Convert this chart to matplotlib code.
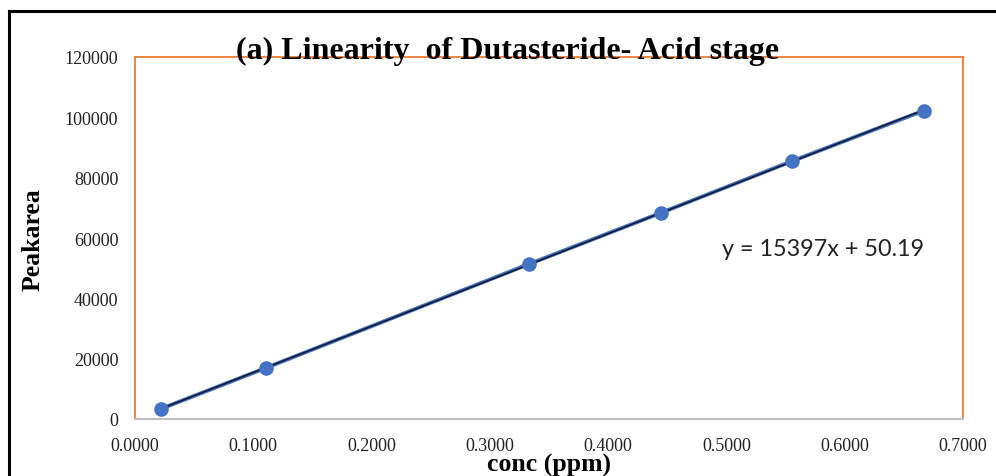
import numpy as np
import matplotlib
matplotlib.use("Agg")
import matplotlib.pyplot as plt
from matplotlib.lines import Line2D

# concentration (ppm) and peak area
conc = [0.0222, 0.1111, 0.3333, 0.4444, 0.5556, 0.6667]
peak_area = [3400, 17000, 51400, 68300, 85500, 102200]

x_ticks = [0.0, 0.1, 0.2, 0.3, 0.4, 0.5, 0.6, 0.7]
y_ticks = [0, 20000, 40000, 60000, 80000, 100000, 120000]

title = "(a) Linearity  of Dutasteride- Acid stage"
equation = "y = 15397x + 50.19"

W, H = 996, 477
fig = plt.figure(figsize=(W / 100, H / 100), dpi=100)
ax = fig.add_axes([135 / W, 1 - 420 / H, (963 - 135) / W, (420 - 58) / H])

# trendline fitted to the points
slope, icpt = np.polyfit(conc, peak_area, 1)
fx = np.array([conc[0], conc[-1]])
ax.plot(conc, peak_area, color="#4472C4", lw=2.8, zorder=2)
ax.plot(fx, slope * fx + icpt, color="#111a33", lw=1.2, zorder=3)
ax.plot(conc, peak_area, "o", color="#4472C4", ms=10.5, mec="none", zorder=4)

ax.set_xlim(0, 0.7)
ax.set_ylim(0, 120000)
ax.set_xticks(x_ticks)
ax.set_xticklabels([f"{v:.4f}" for v in x_ticks])
ax.set_yticks(y_ticks)
ax.set_yticklabels([str(v) for v in y_ticks])
ax.tick_params(length=0, labelsize=13, colors="#222222")
ax.tick_params(axis="x", pad=13)
ax.tick_params(axis="y", pad=12)
for lab in ax.get_xticklabels() + ax.get_yticklabels():
    lab.set_family("Liberation Serif")

for side in ["left", "top", "right"]:
    ax.spines[side].set_color("#ED7D31")
    ax.spines[side].set_linewidth(1.3)
ax.spines["bottom"].set_color("#BFBFBF")
ax.spines["bottom"].set_linewidth(1.5)

ax.text(0.709, 0.47, equation, transform=ax.transAxes, fontsize=16.8,
        family="Lato", va="center", ha="left", color="#222222")

fig.text(508 / W, 1 - 59 / H, title, ha="center", va="baseline",
         fontsize=23, fontweight="bold", family="Liberation Serif")
fig.text(549 / W, 1 - 472 / H, "conc (ppm)", ha="center", va="baseline",
         fontsize=18.5, fontweight="bold", family="Liberation Serif")
fig.text(33 / W, 1 - 240 / H, "Peakarea", ha="center", va="center",
         rotation=90, fontsize=18.5, fontweight="bold", family="Liberation Serif")

# outer frame (top and left edges only visible)
fig.add_artist(Line2D([9 / W, 9 / W], [0, 1 - 12 / H], color="black", lw=2.2))
fig.add_artist(Line2D([9 / W, 1], [1 - 12 / H, 1 - 12 / H], color="black", lw=2.2))

fig.savefig("out.png", dpi=100)
